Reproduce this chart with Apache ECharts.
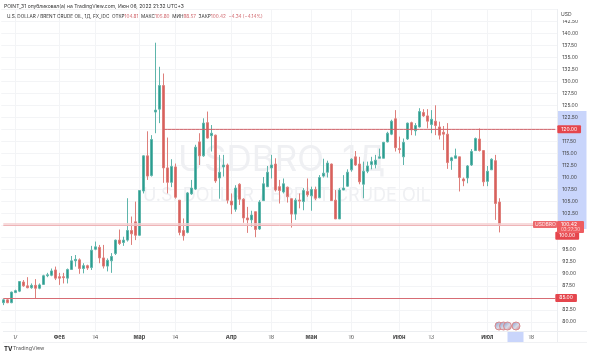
<!DOCTYPE html>
<html>
<head>
<meta charset="utf-8">
<style>html,body{margin:0;padding:0;background:#fff}#chart{width:590px;height:356px}</style>
<script src="https://cdn.jsdelivr.net/npm/echarts@6/dist/echarts.min.js"></script>
</head>
<body>
<div id="chart"></div>
<script>
// дневные свечи USDBRO
var opens = [84.0,84.6,84.0,86.1,86.4,88.3,87.5,87.1,87.6,87.0,87.8,89.6,89.7,90.8,89.4,89.4,89.1,90.9,92.7,92.9,91.1,91.7,91.3,95.1,95.5,93.3,91.6,92.7,94.2,97.0,96.5,97.0,99.0,100.8,98.0,107.2,114.5,110.4,123.6,124.2,129.1,112.0,109.0,112.2,105.3,99.0,98.6,106.6,107.6,117.4,114.5,121.4,118.7,118.8,109.9,112.2,112.6,105.1,103.4,108.6,105.5,101.6,101.2,102.9,99.3,105.2,108.1,112.0,112.8,108.1,107.0,108.0,105.6,102.4,105.3,105.0,107.1,106.2,107.5,105.8,110.3,111.1,112.8,105.3,101.4,107.4,108.2,111.6,114.3,112.8,108.6,111.3,112.7,112.7,114.0,114.0,117.4,119.0,122.2,116.0,114.3,118.0,121.4,119.7,120.5,123.5,122.8,121.0,121.7,120.5,119.4,119.0,113.5,114.0,114.3,109.7,109.9,112.6,115.6,118.0,115.6,109.2,111.6,113.5,104.9];
var closes = [84.6,84.0,86.2,86.5,88.4,87.5,87.1,87.6,87.0,87.7,89.6,89.8,90.6,89.1,89.1,89.2,90.9,92.7,93.0,91.1,91.7,91.2,94.9,95.6,93.3,91.6,92.8,93.6,97.0,96.3,97.0,99.0,98.3,98.0,107.3,114.5,110.3,117.9,124.0,129.1,112.0,109.0,112.3,105.9,98.6,97.9,106.8,107.8,116.3,114.5,121.3,118.2,119.2,109.3,111.1,112.6,105.3,104.3,107.8,105.5,101.6,101.2,102.2,99.2,104.9,108.7,111.1,112.6,107.4,107.3,108.7,106.0,102.4,105.3,105.1,107.3,106.4,107.5,105.7,110.0,110.9,113.0,105.2,101.4,107.4,107.8,111.1,113.8,112.6,109.1,111.3,112.4,113.3,113.6,114.3,117.3,119.2,121.7,116.2,115.8,117.3,121.3,119.9,120.8,123.7,122.8,121.7,122.1,120.8,118.8,119.0,113.1,114.1,114.5,110.0,109.3,112.4,115.4,118.1,115.6,109.1,111.3,113.8,104.6,100.3];
var lows = [83.5,83.9,83.9,86.0,86.2,87.3,87.0,86.9,84.9,86.8,87.7,89.3,89.5,88.7,87.7,88.0,88.0,90.8,91.5,90.0,90.1,90.8,90.8,94.9,92.2,91.1,90.5,90.2,93.9,96.0,95.8,96.7,96.0,97.0,97.9,106.7,109.5,110.2,119.2,121.3,108.9,106.7,108.0,105.6,98.0,96.9,98.4,106.4,107.4,112.6,114.3,118.1,115.4,108.9,105.6,110.2,104.6,102.4,102.9,104.3,100.6,98.5,99.8,97.6,99.1,105.2,108.0,109.8,107.1,104.6,106.7,104.8,99.6,101.2,103.6,103.2,106.0,103.1,105.3,105.7,110.0,110.0,105.2,101.4,101.4,107.4,108.1,111.2,112.4,108.6,105.7,110.9,111.7,111.9,114.0,114.0,117.3,118.8,115.4,115.0,112.6,117.8,118.8,118.7,120.4,122.6,120.2,119.2,118.8,117.9,115.7,111.8,111.6,114.0,107.1,108.2,108.8,112.4,115.5,115.4,108.2,108.2,111.6,101.2,98.6];
var highs = [84.8,84.7,86.3,86.7,88.5,88.7,89.3,88.0,88.9,88.0,89.8,90.2,91.1,91.5,90.2,90.2,91.1,93.7,93.9,93.2,92.2,91.9,95.8,96.7,96.0,96.0,93.2,94.3,97.1,99.2,97.7,105.7,101.9,105.0,107.4,114.6,119.6,118.8,138.0,133.0,131.6,118.3,113.8,112.9,105.3,101.5,107.0,109.5,116.8,119.2,122.3,123.7,120.9,118.9,114.7,114.7,112.9,106.7,108.4,108.8,105.7,103.9,103.1,102.9,105.3,110.1,112.4,114.7,114.0,109.5,109.8,108.1,105.6,105.7,106.7,107.8,109.8,108.1,108.1,110.5,113.9,113.5,112.9,107.4,107.8,110.5,111.7,114.0,115.5,114.3,113.3,113.3,114.3,114.7,116.0,117.4,119.5,122.0,124.0,118.5,118.1,121.4,121.6,121.3,124.4,124.2,124.2,124.0,125.0,121.6,120.7,121.3,114.3,116.0,114.3,110.0,112.6,115.9,118.3,120.2,115.7,112.4,114.0,114.7,105.7];

// подписи оси времени: позиция свечи -> текст
var tickPositions = [3,14,23,34,43,57,67,77,87,99,107,121,132];
var tickLabels = ['17','Фев','14','Мар','14','Апр','18','Май','16','Июн','13','Июл','18'];
var boldLabels = ['Фев','Мар','Апр','Май','Июн','Июл'];

var levelHigh = 120, levelMid = 100, levelLow = 85, lastPrice = 100.42;
var barCount = 139;
var levelHighStart = 40;

var up = '#2a9d8f', down = '#d9605c';
var upWick = '#5fb5ab', downWick = '#de7f7b';
var labelFont = 'Inter, "Liberation Sans", sans-serif';

var categories = [];
for (var i = 0; i < barCount; i++) {
    var k = tickPositions.indexOf(i);
    categories.push(k >= 0 ? tickLabels[k] + '|' + i : String(i));
}
var candles = opens.map(function (o, i) {
    return [o, closes[i], lows[i], highs[i]];
});

// линия 120 как отдельная серия, от свечи levelHighStart до края
var levelHighLine = categories.map(function (c, i) {
    return i >= levelHighStart ? levelHigh : null;
});

function isTick(index) {
    return tickPositions.indexOf(index) >= 0;
}

function flag(cx) {
    return {
        type: 'circle', z: 6,
        shape: {cx: cx, cy: 326, r: 4},
        style: {
            fill: new echarts.graphic.LinearGradient(0, 0, 1, 1, [
                {offset: 0, color: '#7d93c9'},
                {offset: 0.55, color: '#d8dbe6'},
                {offset: 1, color: '#d66a6f'}
            ]),
            stroke: '#d98a8d', lineWidth: 1
        }
    };
}

function priceTag(text, pad, shift) {
    return {
        show: true, position: 'end', distance: 0, offset: [0, shift],
        formatter: text, backgroundColor: '#e5464d', color: '#fff',
        fontFamily: labelFont, fontSize: 5, lineHeight: 6, padding: [1, pad], borderRadius: 1
    };
}

// горизонтальный уровень на всю ширину
function level(value, color, width, label) {
    var style = {type: 'solid', color: color, width: width, opacity: 1};
    return [
        {coord: [0, value], lineStyle: style, label: label},
        {coord: [barCount - 1, value], lineStyle: style}
    ];
}

var myChart = echarts.init(document.getElementById('chart'), null, {renderer: 'canvas'});
var option = {
    animation: false,
    backgroundColor: '#fff',
    grid: {left: 1.3, top: 9, width: 556, height: 325, containLabel: false},
    xAxis: {
        type: 'category',
        data: categories,
        boundaryGap: true,
        axisLine: {show: false},
        axisTick: {show: false},
        splitLine: {
            show: true, alignWithLabel: true,
            interval: function (index) { return isTick(index); },
            lineStyle: {color: '#f3f4f6', width: 1}
        },
        axisLabel: {
            interval: function (index) { return isTick(index); },
            margin: 0,
            formatter: function (v) {
                var t = v.split('|')[0];
                return boldLabels.indexOf(t) >= 0 ? '{b|' + t + '}' : '{n|' + t + '}';
            },
            rich: {
                b: {fontFamily: labelFont, fontSize: 5.5, fontWeight: 'bold', color: '#444'},
                n: {fontFamily: labelFont, fontSize: 5.5, color: '#555'}
            }
        }
    },
    yAxis: {
        type: 'value',
        position: 'right',
        min: 77.5, max: 145, interval: 2.5,
        axisLine: {show: false},
        axisTick: {show: false},
        splitLine: {lineStyle: {color: '#f3f4f6', width: 1}},
        axisLabel: {
            margin: 5,
            fontFamily: labelFont, fontSize: 5, color: '#444',
            formatter: function (v) {
                if (v < 80 || v > 142.5) return '';
                return v.toFixed(2);
            }
        }
    },
    series: [{
        type: 'candlestick',
        data: candles,
        barWidth: 3,
        z: 3,
        itemStyle: {color: up, color0: down, borderColor: upWick, borderColor0: downWick, borderWidth: 1},
        markLine: {
            symbol: 'none', silent: true, z: 4,
            data: [
                level(levelLow, '#d76c74', 1, priceTag('85.00', 4, 0)),
                level(levelMid, '#eeb4b7', 1, priceTag('100.00', 4, 10)),
                level(lastPrice, '#f4cfd1', 1.5, {show: false})
            ]
        }
    }, {
        type: 'line',
        data: levelHighLine,
        z: 4,
        silent: true,
        showSymbol: false,
        connectNulls: false,
        lineStyle: {type: 'solid', color: '#cf5f67', width: 1},
        itemStyle: {color: '#cf5f67'},
        endLabel: {
            show: true, distance: 2, formatter: '120.00', backgroundColor: '#e5464d', color: '#fff',
            fontFamily: labelFont, fontSize: 5, lineHeight: 6, padding: [1, 4], borderRadius: 1
        }
    }],
    graphic: [
        // полоса выделения на шкале цены и на шкале времени
        {type: 'rect', z: 0, silent: true, shape: {x: 557.5, y: 111, width: 29, height: 118}, style: {fill: '#c9d5fb'}},
        {type: 'rect', z: 1, silent: true, shape: {x: 0, y: 332, width: 590, height: 3}, style: {fill: '#fff'}},
        {type: 'rect', z: 1, silent: true, shape: {x: 507.5, y: 332, width: 16, height: 10}, style: {fill: '#c9d5fb'}},
        {type: 'line', z: 1, silent: true, shape: {x1: 3, y1: 331.5, x2: 587, y2: 331.5}, style: {stroke: '#eceef1', lineWidth: 1}},
        {type: 'line', z: 1, silent: true, shape: {x1: 557.5, y1: 9, x2: 557.5, y2: 342}, style: {stroke: '#eceef1', lineWidth: 1}},
        {type: 'line', z: 1, silent: true, shape: {x1: 3, y1: 342.5, x2: 587, y2: 342.5}, style: {stroke: '#f0f1f3', lineWidth: 1}},
        // водяной знак
        {type: 'text', z: 1, silent: true, left: 178, top: 143, style: {text: 'USDBRO, 1Д', fontFamily: labelFont, fontSize: 35, fill: '#eff0f3'}},
        {type: 'text', z: 1, silent: true, left: 143, top: 187, style: {text: 'U.S. DOLLAR / BRENT CRUDE OIL', fontFamily: labelFont, fontSize: 18, fill: '#eff0f3'}},
        // шапка
        {type: 'text', z: 6, silent: true, left: 4, top: 4, style: {text: 'POINT_31 опубликовал(а) на TradingView.com, Июн 06, 2022 21:32 UTC+3', fontFamily: labelFont, fontSize: 5, fill: '#333'}},
        {type: 'text', z: 6, silent: true, left: 7, top: 14, style: {
            text: 'U.S. DOLLAR / BRENT CRUDE OIL, 1Д, FX_IDC  ОТКР{r|104.81}  МАКС{r|105.80}  МИН{r|98.57}  ЗАКР{r|100.42}  {r|−4.34 (−4.14%)}',
            fontFamily: labelFont, fontSize: 4.7, fill: '#333',
            rich: {r: {fontFamily: labelFont, fontSize: 4.7, fill: '#d0666c', color: '#d0666c'}}
        }},
        // USD над шкалой
        {type: 'rect', z: 6, silent: true, shape: {x: 558, y: 9, width: 29, height: 11}, style: {fill: '#fff'}},
        {type: 'text', z: 7, silent: true, left: 561, top: 12, style: {text: 'USD', fontFamily: labelFont, fontSize: 5, fill: '#444'}},
        // текущая цена
        {type: 'rect', z: 6, silent: true, shape: {x: 533, y: 221, width: 24, height: 7, r: 1}, style: {fill: '#ec6a6e'}},
        {type: 'text', z: 7, silent: true, left: 535, top: 222, style: {text: 'USDBRO', fontFamily: labelFont, fontSize: 5, fill: '#ffe5e5'}},
        {type: 'rect', z: 6, silent: true, shape: {x: 557, y: 221, width: 27, height: 12, r: 1}, style: {fill: '#ee5c60'}},
        {type: 'text', z: 7, silent: true, left: 561, top: 222, style: {text: '100.42', fontFamily: labelFont, fontSize: 5, fill: '#fff'}},
        {type: 'text', z: 7, silent: true, left: 561, top: 227, style: {text: '03:27:30', fontFamily: labelFont, fontSize: 4.5, fill: '#ffd5d5'}},
        // значки событий
        flag(499), flag(503.5), flag(507.5), flag(516),
        // логотип
        {type: 'text', z: 6, silent: true, left: 4, top: 346, style: {text: 'TV', fontFamily: labelFont, fontSize: 6, fontWeight: 'bold', fill: '#222'}},
        {type: 'text', z: 6, silent: true, left: 13, top: 346, style: {text: 'TradingView', fontFamily: labelFont, fontSize: 5.3, fill: '#555'}}
    ]
};
myChart.setOption(option);
</script>
</body>
</html>
